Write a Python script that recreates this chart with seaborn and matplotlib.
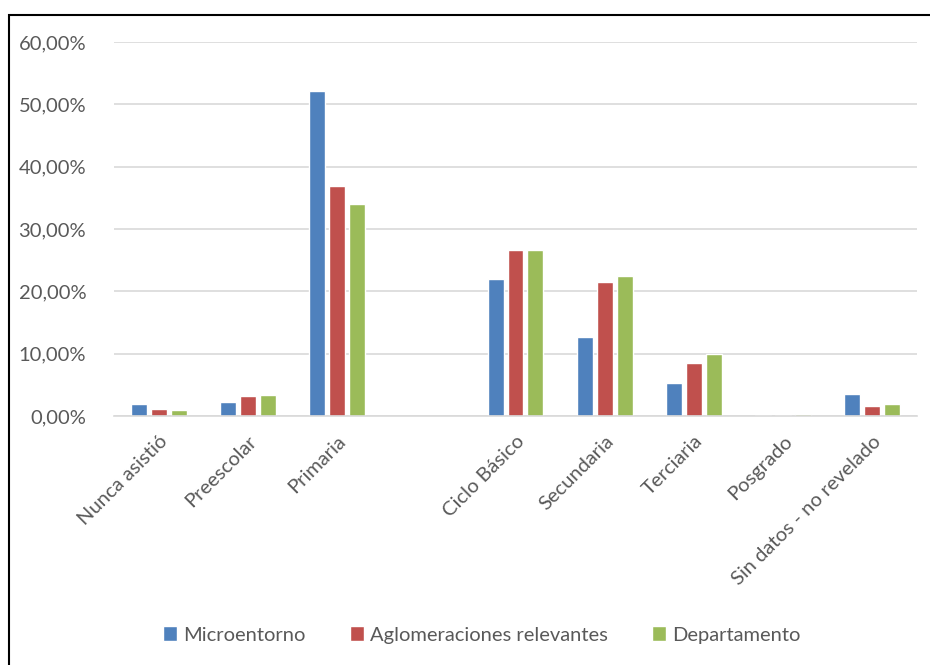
import numpy as np
import pandas as pd
import seaborn as sns
import matplotlib.pyplot as plt
from matplotlib.patches import Rectangle
from matplotlib.ticker import FuncFormatter

# values (percent)
categorias = ["Nunca asistió", "Preescolar", "Primaria", "",
              "Ciclo Básico", "Secundaria", "Terciaria", "Posgrado",
              "Sin datos - no revelado"]
microentorno = [1.9, 2.2, 52.2, np.nan, 21.9, 12.7, 5.3, 0.2, 3.5]
aglomeraciones = [1.1, 3.2, 36.9, np.nan, 26.7, 21.5, 8.5, 0.2, 1.6]
departamento = [1.0, 3.3, 34.0, np.nan, 26.7, 22.5, 10.0, 0.4, 1.9]
series = ["Microentorno", "Aglomeraciones relevantes", "Departamento"]
colores = ["#4F81BD", "#C0504D", "#9BBB59"]

df = pd.DataFrame({
    "categoria": categorias * 3,
    "serie": sum([[s] * len(categorias) for s in series], []),
    "valor": microentorno + aglomeraciones + departamento,
})

sns.set_theme(style="white")
plt.rcParams['font.family'] = ['Lato', 'DejaVu Sans']
text_color = "#595959"

fig = plt.figure(figsize=(9.3, 6.65), dpi=100)
ax = fig.add_axes([114 / 930, 1 - 416 / 665, (917 - 114) / 930, (416 - 42) / 665])

sns.barplot(data=df, x="categoria", y="valor", hue="serie", order=categorias,
            hue_order=series, palette=colores, width=0.67, gap=0.2,
            saturation=1, ax=ax, legend=True)

ax.set_ylim(0, 60)
ax.set_yticks(range(0, 61, 10))
ax.yaxis.set_major_formatter(FuncFormatter(lambda v, p: f"{v:.2f}%".replace(".", ",")))
ax.grid(axis="y", color="#d9d9d9", linewidth=1.2)
ax.set_axisbelow(True)
for s in ["top", "right", "left"]:
    ax.spines[s].set_visible(False)
ax.spines["bottom"].set_color("#d9d9d9")
ax.spines["bottom"].set_linewidth(1.2)
ax.set_xlabel("")
ax.set_ylabel("")
ax.tick_params(axis="both", length=0, labelsize=14.5, colors=text_color)
ax.tick_params(axis="y", pad=20)
ax.tick_params(axis="x", pad=12)
plt.setp(ax.get_xticklabels(), rotation=45, ha="right", rotation_mode="anchor")

handles, labels = ax.get_legend_handles_labels()
ax.get_legend().remove()
leg = fig.legend(handles, labels, loc="center", bbox_to_anchor=(482 / 930, 1 - 635 / 665),
                 ncol=3, frameon=False, fontsize=14.5, handlelength=0.7,
                 handleheight=0.7, handletextpad=0.3, columnspacing=2.2)
for t in leg.get_texts():
    t.set_color(text_color)

# chart frame (right and bottom edges run off the picture)
fig.patches.append(Rectangle((9 / 930, -0.05), 1, 1.05 - 15 / 665, transform=fig.transFigure,
                             fill=False, edgecolor="black", linewidth=1.5))

fig.savefig("out.png", dpi=100)
